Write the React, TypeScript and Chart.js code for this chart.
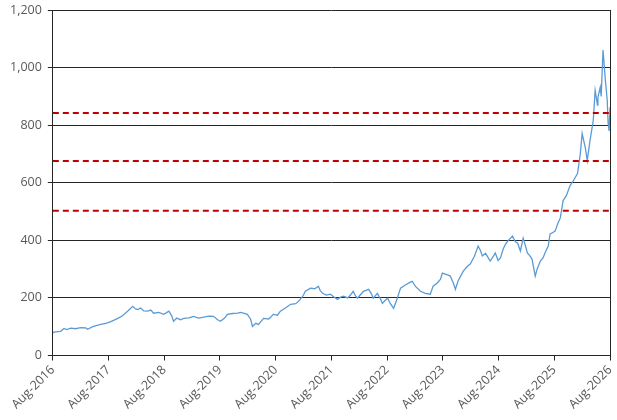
import React, { useEffect, useRef } from "react";
import { Chart, registerables } from "chart.js";

Chart.register(...registerables);

// months since Aug-2016
const months: number[] = [
  0, 0.6, 1.7, 2.4, 3, 3.9, 4.9, 6, 7.1, 7.5, 8.6, 10.3, 11.4, 12.5, 14, 15, 16.1, 17.2, 17.8, 18.3,
  18.9, 19.6, 20.4, 21.1, 21.7, 22.8, 23.9, 25, 25.6, 26, 26.7, 27.5, 28.2, 29.3, 30.3, 31.4, 32.5,
  33.6, 34.6, 35.5, 36.1, 37, 37.6, 38.7, 39.8, 40.4, 41.1, 41.9, 42.6, 43, 43.7, 44.3, 45.4, 46.5,
  47.5, 48.4, 49, 50.1, 51.2, 52.3, 52.9, 53.8, 54.4, 55.5, 56.4, 57.2, 57.6, 58.1, 58.9, 59.8, 60.4,
  61.3, 62, 62.6, 63.5, 64.1, 64.7, 65.2, 65.6, 66.3, 66.9, 68, 68.6, 69, 69.9, 70.6, 71, 71.6, 72.1,
  72.7, 73.4, 74, 74.9, 75.9, 77, 77.4, 78.1, 79.2, 80.2, 81.3, 81.9, 82.8, 83.5, 83.9, 85, 85.6,
  86.3, 86.7, 87.3, 88.4, 89.3, 89.9, 90.8, 91.6, 92.1, 92.5, 93.2, 94.2, 94.9, 95.3, 95.9, 96.4, 97,
  97.5, 98.1, 99, 99.6, 100.1, 100.7, 101.3, 101.8, 102.2, 102.8, 103.2, 103.9, 104.3, 105, 105.6,
  106, 106.7, 107.1, 107.8, 108.2, 108.8, 109.3, 109.9, 110.6, 111.4, 112.1, 113, 113.6, 114, 114.7,
  115.1, 115.7, 116.4, 116.8, 117.3, 117.4, 117.9, 118.1, 118.5, 119, 119.4, 119.6, 119.8, 120,
];

const prices: number[] = [
  80, 82, 84, 94, 90, 95, 93, 97, 96, 91, 100, 108, 112, 118, 129, 138, 154, 171, 162, 160,
  165, 155, 154, 158, 147, 150, 143, 154, 138, 119, 130, 124, 129, 131, 136, 130, 133,
  137, 136, 124, 119, 130, 143, 146, 147, 150, 147, 143, 126, 101, 112, 108, 129, 127,
  143, 140, 154, 165, 178, 180, 188, 205, 223, 234, 232, 241, 225, 216, 210, 213, 205,
  195, 203, 206, 200, 210, 223, 207, 199, 212, 223, 230, 215, 199, 216, 195, 181, 192, 199,
  180, 164, 190, 234, 245, 255, 258, 240, 223, 216, 213, 241, 252, 265, 286, 280, 276,
  250, 230, 260, 293, 310, 318, 345, 380, 365, 346, 355, 328, 345, 356, 330, 339, 370,
  387, 400, 415, 395, 391, 363, 408, 380, 356, 345, 335, 276, 300, 328, 340,
  356, 380, 422, 428, 433, 460, 478, 538, 555, 590, 607, 632, 700, 771, 720,
  677, 747, 817, 921, 870, 897, 932, 900, 1061, 956, 887, 806, 780, 862,
];

const levelValues: number[] = [842, 676, 503];
const xTickLabels: string[] = [
  "Aug-2016", "Aug-2017", "Aug-2018", "Aug-2019", "Aug-2020", "Aug-2021",
  "Aug-2022", "Aug-2023", "Aug-2024", "Aug-2025", "Aug-2026",
];
const yTicks: number[] = [0, 200, 400, 600, 800, 1000, 1200];

const rightBorder = {
  id: "rightBorder",
  afterDraw(chart: any) {
    const { ctx, chartArea } = chart;
    ctx.save();
    ctx.strokeStyle = "#262626";
    ctx.lineWidth = 1;
    ctx.beginPath();
    ctx.moveTo(chartArea.right + 0.5, chartArea.top);
    ctx.lineTo(chartArea.right + 0.5, chartArea.bottom);
    ctx.stroke();
    ctx.restore();
  },
};

export default function App() {
  const ref = useRef<HTMLCanvasElement>(null);
  useEffect(() => {
    document.body.style.margin = "0";
    const lineData = months.map((m, i) => ({ x: m, y: prices[i] }));
    const levelSets = levelValues.map((v) => ({
      data: [
        { x: 0, y: v },
        { x: 120, y: v },
      ],
      borderColor: "#c00000",
      borderWidth: 2,
      borderDash: [6, 4],
      pointRadius: 0,
      fill: false,
    }));
    const chart = new Chart(ref.current!, {
      type: "line",
      data: {
        datasets: [
          ...levelSets,
          {
            data: lineData,
            borderColor: "#5b9bd5",
            borderWidth: 1.3,
            pointRadius: 0,
            tension: 0,
            fill: false,
          },
        ],
      },
      plugins: [rightBorder],
      options: {
        animation: false,
        responsive: false,
        maintainAspectRatio: false,
        layout: { padding: { left: 4, right: 0, top: 0, bottom: 6 } },
        plugins: { legend: { display: false }, tooltip: { enabled: false } },
        scales: {
          x: {
            type: "linear",
            min: 0,
            max: 120,
            afterBuildTicks: (axis: any) => {
              axis.ticks = xTickLabels.map((_, i) => ({ value: i * 12 }));
            },
            afterFit: (axis: any) => {
              axis.paddingRight = 7;
              axis.paddingLeft = 0;
            },
            ticks: {
              callback: (v: any) => xTickLabels[Math.round(Number(v) / 12)] ?? "",
              maxRotation: 45,
              minRotation: 45,
              autoSkip: false,
              color: "#595959",
              font: { family: "Open Sans", size: 12.5 },
              padding: 2,
            },
            grid: {
              display: true,
              drawOnChartArea: false,
              drawTicks: true,
              tickLength: 5,
              color: "#262626",
            },
            border: { color: "#262626", width: 1 },
          },
          y: {
            min: 0,
            max: 1200,
            afterBuildTicks: (axis: any) => {
              axis.ticks = yTicks.map((v) => ({ value: v }));
            },
            afterFit: (axis: any) => {
              axis.paddingTop = 10;
              axis.paddingBottom = 0;
            },
            ticks: {
              callback: (v: any) => Number(v).toLocaleString("en-US"),
              color: "#595959",
              font: { family: "Open Sans", size: 12.5 },
              padding: 6,
            },
            grid: { color: "#262626", lineWidth: 1, tickLength: 5 },
            border: { color: "#262626", width: 1 },
          },
        },
      },
    });
    return () => chart.destroy();
  }, []);
  return (
    <div style={{ width: 617, height: 420 }}>
      <canvas ref={ref} width={617} height={420} style={{ width: 617, height: 420 }} />
    </div>
  );
}
